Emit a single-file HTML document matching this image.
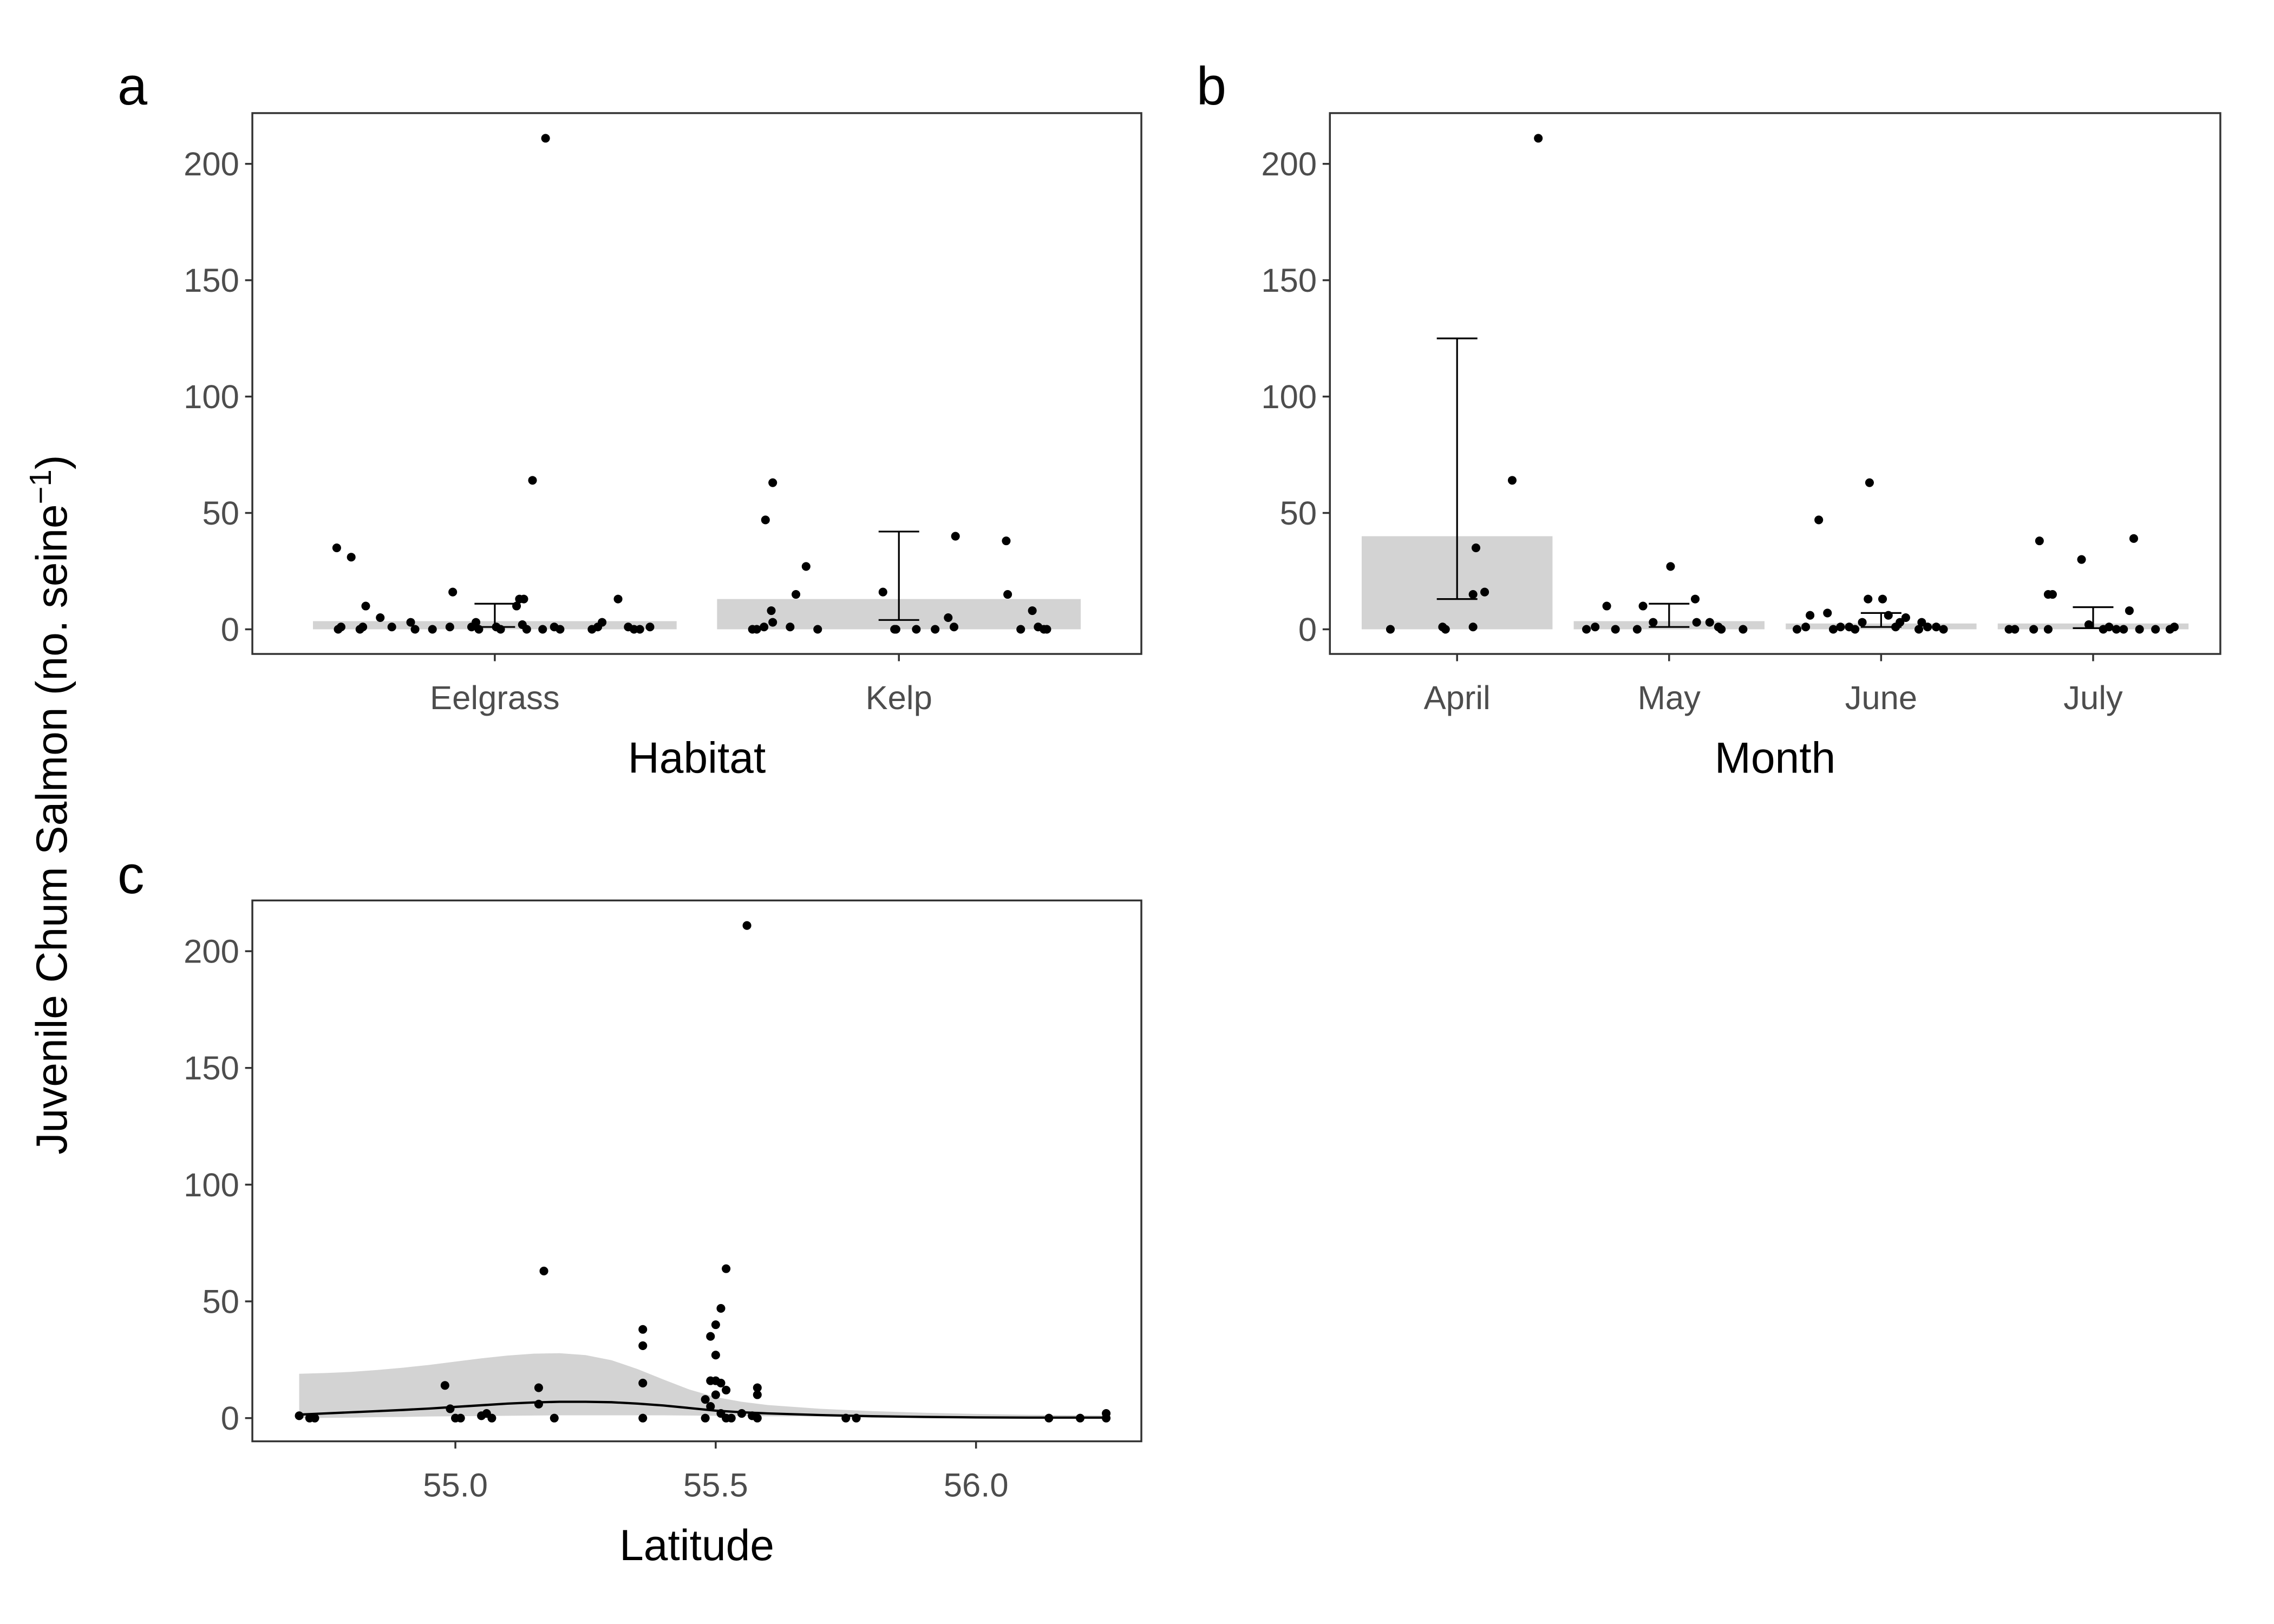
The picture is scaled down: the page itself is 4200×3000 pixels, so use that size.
<!DOCTYPE html>
<html><head><meta charset="utf-8"><style>html,body{margin:0;padding:0;background:#fff}svg{display:block}text{font-family:"Liberation Sans",Arial,sans-serif}</style></head>
<body>
<svg id="fig" width="4200" height="3000" viewBox="0 0 1568 1120" preserveAspectRatio="none" xmlns="http://www.w3.org/2000/svg">
<rect width="1568" height="1120" fill="#fff"/>
<text transform="translate(46,555) rotate(-90)" text-anchor="middle" font-size="30">Juvenile Chum Salmon (no. seine<tspan dy="-11" font-size="21">−1</tspan><tspan dy="11">)</tspan></text>
<text x="81" y="72" font-size="37">a</text>
<text x="825" y="72" font-size="37">b</text>
<text x="81" y="616" font-size="37">c</text>
<g id="pa"></g>
<g id="pb"></g>
<g id="pc"></g>
</svg>
<script>
const NS="http://www.w3.org/2000/svg";
// Panel a data
const habitatCats=["Eelgrass","Kelp"];
const habitatMean=[3.5,13];
const habitatLo=[1,4];
const habitatHi=[11,42];
const habitatPtCat=[0,0,0,0,0,0,0,0,0,0,0,0,0,0,0,0,0,0,0,0,0,0,0,0,0,0,0,0,0,0,0,0,0,0,0,0,0,1,1,1,1,1,1,1,1,1,1,1,1,1,1,1,1,1,1,1,1,1,1,1,1,1,1];
const habitatPtJit=[-109,-99,-108,-106,-93,-89,-91,-79,-71,-58,-55,-43,-31,-29,-16,-13,-11,1,4,15,17,20,26,35,19,22,33,41,45,67,71,74,85,92,96,100,107,-101,-98,-93,-92,-88,-87,-87,-75,-71,-64,-56,-11,-3,-2,12,25,34,38,39,74,75,84,92,96,100,102];
const habitatPtVal=[35,31,0,1,0,10,1,5,1,3,0,0,1,16,1,3,0,1,0,10,13,13,64,211,2,0,0,1,0,0,1,3,13,1,0,0,1,0,0,1,47,8,63,3,1,15,27,0,16,0,0,0,0,5,1,40,38,15,0,8,1,0,0];
// Panel b data
const monthCats=["April","May","June","July"];
const monthMean=[40,3.5,2.5,2.5];
const monthLo=[13,1,1,0.5];
const monthHi=[125,11,7,9.5];
const monthPtCat=[0,0,0,0,0,0,0,0,0,1,1,1,1,1,1,1,1,1,1,1,1,1,1,2,2,2,2,2,2,2,2,2,2,2,2,2,2,2,2,2,2,2,2,2,2,3,3,3,3,3,3,3,3,3,3,3,3,3,3,3,3,3,3,3];
const monthPtJit=[-46,-10,-8,11,11,13,19,38,56,-57,-51,-43,-37,-22,-18,-11,1,18,28,34,36,51,19,-58,-52,-49,-43,-37,-33,-28,-22,-18,-13,-9,-8,1,5,10,13,17,26,28,32,38,43,-58,-54,-41,-37,-31,-31,-28,-8,-3,7,11,16,21,25,28,32,43,53,56];
const monthPtVal=[0,1,0,1,15,35,16,64,211,0,1,10,0,0,10,3,27,13,3,1,0,0,3,0,1,6,47,7,0,1,1,0,3,13,63,13,6,1,3,5,0,3,1,1,0,0,0,0,38,0,15,15,30,2,0,1,0,0,8,39,0,0,0,1];
// Panel c data
const latPts=[54.70,54.72,54.73,54.98,54.99,55.00,55.01,55.05,55.06,55.07,55.16,55.16,55.17,55.19,55.36,55.36,55.36,55.36,55.48,55.48,55.49,55.49,55.49,55.50,55.50,55.50,55.50,55.51,55.51,55.51,55.52,55.52,55.52,55.53,55.55,55.57,55.56,55.58,55.58,55.58,55.75,55.77,56.14,56.20,56.25,56.25];
const latVals=[1,0,0,14,4,0,0,1,2,0,13,6,63,0,38,31,15,0,0,8,35,16,5,10,40,27,16,47,15,2,0,12,64,0,2,1,211,10,13,0,0,0,0,0,0,2];
const smoothLat=[54.7,54.75,54.8,54.85,54.9,54.95,55.0,55.05,55.1,55.15,55.2,55.25,55.3,55.35,55.4,55.45,55.5,55.55,55.6,55.7,55.8,55.9,56.0,56.1,56.25];
const smoothFit=[1.5,2,2.5,3,3.5,4.1,4.8,5.5,6.2,6.7,7,7,6.8,6.2,5.4,4.3,3.2,2.5,2.0,1.3,0.8,0.5,0.3,0.2,0.2];
const smoothHi=[19,19.3,19.8,20.6,21.6,22.8,24.2,25.6,26.8,27.6,27.8,27,24.8,21,16.5,12.2,9,7,5.6,4,3,2.3,1.8,1.4,1.1];
const smoothLo=[0,0.1,0.2,0.4,0.5,0.7,0.8,0.9,1,1.1,1.2,1.2,1.2,1.2,1.2,1.1,1,0.9,0.8,0.7,0.5,0.4,0.3,0.3,0.3];
const yTicks=[0,50,100,150,200];
const latTicks=[55.0,55.5,56.0];

function el(tag,attrs,parent){const e=document.createElementNS(NS,tag);for(const k in attrs)e.setAttribute(k,attrs[k]);parent.appendChild(e);return e;}
function frame(g,x0,y0,x1,y1,ys,name){
  el("rect",{x:x0,y:y0,width:x1-x0,height:y1-y0,fill:"none",stroke:"#333","stroke-width":1.3},g);
  yTicks.forEach(t=>{const y=ys(t);
    el("line",{x1:x0-5,x2:x0,y1:y,y2:y,stroke:"#333","stroke-width":1.3},g);
    const tx=el("text",{x:x0-9,y:y+8,"text-anchor":"end","font-size":23,fill:"#4d4d4d"},g);tx.textContent=t;
    
    
  });
}
function pt(g,x,y){const c=el("circle",{cx:x,cy:y,r:3,fill:"#000"},g);
  
  }
function catPanel(g,x0,x1,y0,y1,cats,mean,lo,hi,pc,pj,pv,title,name){
  const ys=v=>434-v*1.605;
  const u=(x1-x0)/(cats.length-1+1.2), xs=i=>x0+u*(i+0.6), bw=u*0.9;
  frame(g,x0,y0,x1,y1,ys,name);
  cats.forEach((c,i)=>{const cx=xs(i);
    const b=el("rect",{x:cx-bw/2,y:ys(mean[i]),width:bw,height:ys(0)-ys(mean[i]),fill:"#d3d3d3"},g);
    
    
  });
  for(let k=0;k<pv.length;k++)pt(g,xs(pc[k])+pj[k],ys(pv[k]));
  cats.forEach((c,i)=>{const cx=xs(i);
    const e=el("g",{},g);
    
    
    el("line",{x1:cx,x2:cx,y1:ys(lo[i]),y2:ys(hi[i]),stroke:"#000","stroke-width":1.2},e);
    el("line",{x1:cx-14,x2:cx+14,y1:ys(lo[i]),y2:ys(lo[i]),stroke:"#000","stroke-width":1.2},e);
    el("line",{x1:cx-14,x2:cx+14,y1:ys(hi[i]),y2:ys(hi[i]),stroke:"#000","stroke-width":1.2},e);
    el("line",{x1:cx,x2:cx,y1:y1,y2:y1+5,stroke:"#333","stroke-width":1.3},g);
    const t=el("text",{x:cx,y:y1+38,"text-anchor":"middle","font-size":23,fill:"#4d4d4d"},g);t.textContent=c;
    
    
  });
  const tt=el("text",{x:(x0+x1)/2,y:y1+82,"text-anchor":"middle","font-size":30},g);tt.textContent=title;
  
  
}
catPanel(document.getElementById("pa"),174,787,78,451,habitatCats,habitatMean,habitatLo,habitatHi,habitatPtCat,habitatPtJit,habitatPtVal,"Habitat","panel-a");
catPanel(document.getElementById("pb"),917,1531,78,451,monthCats,monthMean,monthLo,monthHi,monthPtCat,monthPtJit,monthPtVal,"Month","panel-b");
// panel c
(function(){
  const g=document.getElementById("pc");
  const x0=174,x1=787,y0=621,y1=994;
  const ys=v=>978-v*1.61, xs=l=>314+(l-55)*359;
  frame(g,x0,y0,x1,y1,ys,"panel-c");
  let d="";smoothLat.forEach((l,i)=>{d+=(i?"L":"M")+xs(l)+","+ys(smoothHi[i]);});
  for(let i=smoothLat.length-1;i>=0;i--)d+="L"+xs(smoothLat[i])+","+ys(smoothLo[i]);
  const rb=el("path",{d:d+"Z",fill:"#d3d3d3"},g);
  
  
  for(let k=0;k<latPts.length;k++)pt(g,xs(latPts[k]),ys(latVals[k]));
  let d2="";smoothLat.forEach((l,i)=>{d2+=(i?"L":"M")+xs(l)+","+ys(smoothFit[i]);});
  const ln=el("path",{d:d2,fill:"none",stroke:"#000","stroke-width":1.6},g);
  
  
  latTicks.forEach(t=>{const x=xs(t);
    el("line",{x1:x,x2:x,y1:y1,y2:y1+5,stroke:"#333","stroke-width":1.3},g);
    const tx=el("text",{x:x,y:y1+38,"text-anchor":"middle","font-size":23,fill:"#4d4d4d"},g);tx.textContent=t.toFixed(1);
    
    
  });
  const tt=el("text",{x:(x0+x1)/2,y:y1+82,"text-anchor":"middle","font-size":30},g);tt.textContent="Latitude";
  
  
})();
</script>
</body></html>
